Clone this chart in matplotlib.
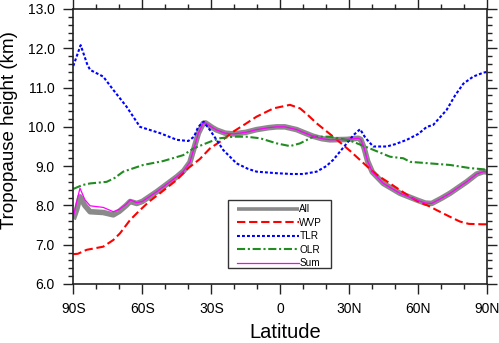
import matplotlib
matplotlib.use("Agg")
import matplotlib.pyplot as plt
from matplotlib.ticker import MultipleLocator, FormatStrFormatter
from matplotlib.patches import Rectangle

plt.rcParams['font.family'] = ['Liberation Sans', 'DejaVu Sans']

# ---- data ----
tlr_lat = [-90, -86.8, -84, -82.7, -77, -72.6, -66.8, -61, -52.3, -45, -40, -37.5, -35.7, -33.3,
           -30.6, -27.5, -24.8, -19, -14, -10.3, -1.6, 5, 10, 15.8, 20, 23, 28.9, 32, 34.7, 37,
           40.4, 46.3, 50, 55, 60, 63.7, 66.5, 72.3, 76, 79.6, 83.9, 88.3, 90]
tlr_val = [11.55, 12.08, 11.6, 11.45, 11.28, 10.94, 10.51, 10.0, 9.84, 9.67, 9.64, 9.75, 10.0, 10.13,
           9.92, 9.65, 9.41, 9.07, 8.93, 8.86, 8.82, 8.80, 8.80, 8.86, 9.0, 9.16, 9.58, 9.8, 9.94, 9.72,
           9.50, 9.50, 9.56, 9.67, 9.82, 10.0, 10.05, 10.43, 10.8, 11.1, 11.28, 11.38, 11.40]

wvp_lat = [-90, -88, -84.2, -77, -72.6, -69.7, -65.3, -62.4, -61, -57, -52.3, -45, -40, -35, -30.6,
           -25, -20.4, -15, -10.3, -3, 4.2, 8.6, 12, 15.8, 23, 30.3, 37.6, 41.9, 47.7, 56.4, 60,
           65.1, 68, 73.8, 78.1, 82, 87.6, 90]
wvp_val = [6.76, 6.77, 6.87, 6.95, 7.12, 7.29, 7.63, 7.80, 7.88, 8.1, 8.31, 8.65, 8.95, 9.18, 9.45,
           9.67, 9.88, 10.08, 10.26, 10.47, 10.56, 10.47, 10.3, 10.09, 9.75, 9.39, 9.0, 8.78, 8.56, 8.22, 8.1,
           7.97, 7.88, 7.71, 7.59, 7.53, 7.52, 7.52]

olr_lat = [-90, -86, -82.7, -75.5, -72, -68.3, -59.6, -50.9, -42.2, -37.8, -30.6, -26.2, -20.4, -15,
           -8.8, -1.6, 4.2, 8.6, 14.3, 21.6, 30.3, 39, 47.7, 53.5, 56.4, 65.1, 73.8, 82.5, 88.3, 90]
olr_val = [8.42, 8.52, 8.56, 8.60, 8.7, 8.86, 9.03, 9.13, 9.28, 9.45, 9.62, 9.71, 9.75, 9.75,
           9.71, 9.58, 9.51, 9.58, 9.75, 9.75, 9.65, 9.45, 9.24, 9.20, 9.11, 9.07, 9.03, 8.95, 8.92, 8.9]

all_lat = [-90, -88.5, -87.1, -85, -82.7, -77, -72.6, -70, -67, -65.3, -62.4, -60, -53.7, -45, -42,
           -39.3, -37.8, -35.6, -33.5, -32.5, -29.5, -27.7, -24, -20.4, -15, -10.3, -5, -1.6, 2, 7.1,
           10, 14.3, 18, 21.6, 28.9, 33.9, 35, 36.5, 38, 40, 44.8, 52, 59.3, 63, 65.8, 70, 73.8, 81,
           85.4, 88.3, 90]
all_val = [7.65, 7.9, 8.22, 8.0, 7.84, 7.82, 7.76, 7.85, 8.0, 8.10, 8.05, 8.1, 8.35, 8.73, 8.88,
           9.10, 9.40, 9.84, 10.09, 10.10, 9.98, 9.92, 9.84, 9.82, 9.86, 9.93, 9.98, 10.0, 10.0, 9.93,
           9.86, 9.76, 9.70, 9.67, 9.68, 9.71, 9.68, 9.45, 9.12, 8.85, 8.56, 8.31, 8.14, 8.06, 8.05, 8.18, 8.31, 8.60,
           8.80, 8.86, 8.85]

sum_lat = all_lat
sum_val = [7.72, 8.1, 8.44, 8.15, 7.99, 7.95, 7.84, 7.9, 8.03, 8.14, 8.07, 8.1, 8.35, 8.73, 8.88,
           9.10, 9.40, 9.84, 10.09, 10.10, 9.98, 9.92, 9.84, 9.82, 9.86, 9.93, 9.98, 10.0, 10.0, 9.93,
           9.86, 9.76, 9.70, 9.67, 9.68, 9.71, 9.68, 9.45, 9.12, 8.85, 8.56, 8.31, 8.14, 8.06, 8.05, 8.18, 8.31, 8.60,
           8.80, 8.86, 8.85]

xtick_pos = [-90, -60, -30, 0, 30, 60, 90]
xtick_lab = ['90S', '60S', '30S', '0', '30N', '60N', '90N']

# ---- figure ----
W, H = 499, 343
fig = plt.figure(figsize=(W/100, H/100), dpi=100)
ax = fig.add_axes([73.3/W, 1-284/H, 414/W, 275/H])

ax.plot(all_lat, all_val, color='#8a8a8a', lw=4.0, label='All', solid_capstyle='butt')
ax.plot(wvp_lat, wvp_val, color='#ff0000', lw=1.5, dashes=(4.0, 1.8), label='WVP')
ax.plot(tlr_lat, tlr_val, color='#0000ff', lw=1.5, dashes=(1.4, 1.0), label='TLR')
ax.plot(olr_lat, olr_val, color='#228b22', lw=1.5, dashes=(3.9, 1.3, 1.0, 1.3), label='OLR')
ax.plot(sum_lat, sum_val, color='#ff00ff', lw=0.9, label='Sum')

ax.set_xlim(-90, 90)
ax.set_ylim(6, 13)
ax.set_xticks(xtick_pos)
ax.set_xticklabels(xtick_lab)
ax.xaxis.set_minor_locator(MultipleLocator(10))
ax.yaxis.set_major_locator(MultipleLocator(1))
ax.yaxis.set_minor_locator(MultipleLocator(0.2))
ax.yaxis.set_major_formatter(FormatStrFormatter('%.1f'))

ax.tick_params(which='both', direction='out', top=True, right=True, labeltop=False, labelright=False,
               width=1.0, colors='#222222', labelcolor='black', labelsize=10)
ax.tick_params(which='major', length=7.2, pad=6)
ax.tick_params(which='minor', length=3.6)
for s in ax.spines.values():
    s.set_linewidth(1.2)
    s.set_color('#222222')

ax.set_xlabel('Latitude', fontsize=14.5)
ax.xaxis.set_label_coords((285 - 73.3) / 414, (284 - 322.5) / 275)
ax.set_ylabel('Tropopause height (km)', fontsize=13.5)
ax.yaxis.set_label_coords((18.5 - 73.3) / 414, (284 - 130) / 275)

# legend frame and entries
x0, x1 = (228.3 - 73.3) / 414, (331 - 73.3) / 414
y1, y0 = (284 - 200) / 275, (284 - 267.7) / 275
ax.add_patch(Rectangle((x0, y0), x1 - x0, y1 - y0, transform=ax.transAxes,
                       facecolor='white', edgecolor='#333333', lw=1.0, zorder=4))
leg = ax.legend(loc='upper left', bbox_to_anchor=((237.3 - 73.3) / 414, (284 - 204.5) / 275), fontsize=7.2,
                handlelength=6.2, handletextpad=0.0, labelspacing=0.34, borderpad=0,
                borderaxespad=0, frameon=False)
leg.set_zorder(5)
leg.get_lines()[0].set_linewidth(2.6)

fig.savefig('out.png', dpi=100)
